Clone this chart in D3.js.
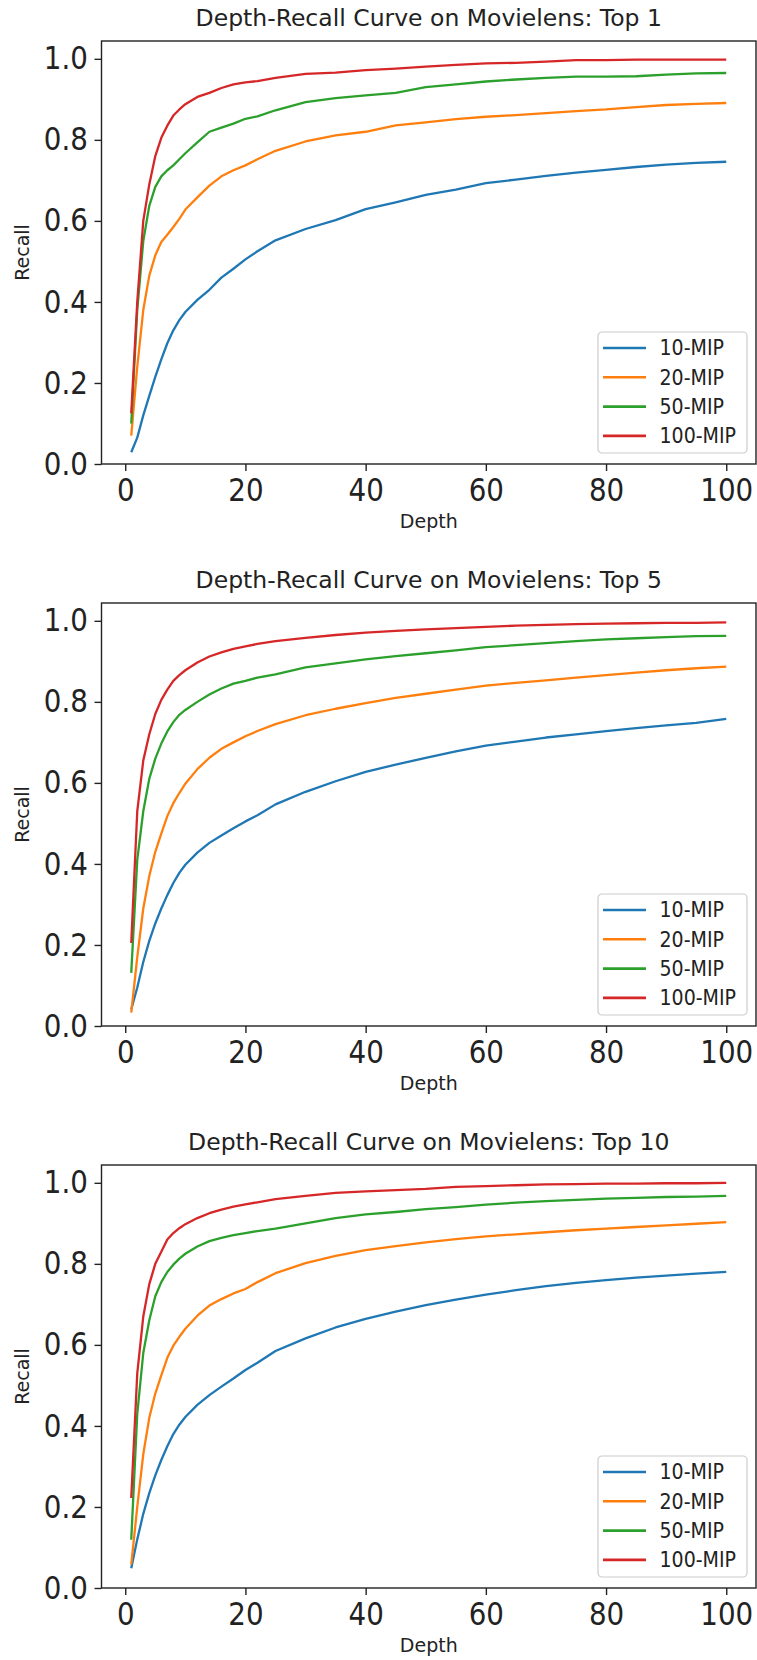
<!DOCTYPE html>
<html>
<head>
<meta charset="utf-8">
<script src="https://cdn.jsdelivr.net/npm/d3@7"></script>
<style>
    body { margin: 0; background: #fff; }
    svg { display: block; font-family: "DejaVu Sans", sans-serif; }
</style>
</head>
<body>
<svg id="chart" width="757" height="1660"></svg>
<script>
var depths = [1, 2, 3, 4, 5, 6, 7, 8, 9, 10, 12, 14, 16, 18, 20, 22, 25, 30, 35, 40, 45, 50,
    55, 60, 65, 70, 75, 80, 85, 90, 95, 100];

var titles = ['Depth-Recall Curve on Movielens: Top 1',
    'Depth-Recall Curve on Movielens: Top 5',
    'Depth-Recall Curve on Movielens: Top 10'];
var seriesNames = ['10-MIP', '20-MIP', '50-MIP', '100-MIP'];
var seriesColors = ['#1f77b4', '#ff7f0e', '#2ca02c', '#d62728'];
var xTicks = [0, 20, 40, 60, 80, 100];
var yTicks = [0.0, 0.2, 0.4, 0.6, 0.8, 1.0];

// Top 1
var top1Mip10 = [0.029, 0.065, 0.12, 0.168, 0.215, 0.258, 0.298, 0.33, 0.355, 0.375, 0.405, 0.43, 0.46, 0.482, 0.505, 0.525, 0.552,
    0.58, 0.602, 0.629, 0.646, 0.664, 0.677, 0.693, 0.702, 0.711, 0.719, 0.726, 0.733, 0.739, 0.743, 0.746];
var top1Mip20 = [0.07, 0.24, 0.38, 0.465, 0.515, 0.548, 0.566, 0.585, 0.605, 0.628, 0.658, 0.687, 0.71, 0.725, 0.737, 0.752, 0.773,
    0.796, 0.811, 0.82, 0.836, 0.843, 0.851, 0.857, 0.861, 0.866, 0.871, 0.875, 0.881, 0.886, 0.889, 0.891];
var top1Mip50 = [0.10, 0.38, 0.55, 0.637, 0.684, 0.71, 0.725, 0.737, 0.752, 0.767, 0.794, 0.82, 0.83, 0.84, 0.852, 0.858, 0.873,
    0.893, 0.903, 0.91, 0.916, 0.93, 0.937, 0.944, 0.949, 0.953, 0.956, 0.956, 0.957, 0.961, 0.964, 0.965];
var top1Mip100 = [0.125, 0.40, 0.60, 0.69, 0.76, 0.805, 0.835, 0.86, 0.875, 0.888, 0.906, 0.916, 0.928, 0.937, 0.942, 0.945, 0.953,
    0.963, 0.966, 0.972, 0.976, 0.981, 0.985, 0.989, 0.99, 0.993, 0.997, 0.997, 0.998, 0.998, 0.998, 0.998];

// Top 5
var top5Mip10 = [0.041, 0.095, 0.158, 0.21, 0.253, 0.29, 0.323, 0.353, 0.378, 0.398, 0.428, 0.452, 0.47, 0.488, 0.505, 0.52, 0.547,
    0.578, 0.604, 0.627, 0.645, 0.662, 0.678, 0.692, 0.702, 0.712, 0.72, 0.728, 0.735, 0.742, 0.748, 0.758];
var top5Mip20 = [0.033, 0.17, 0.29, 0.37, 0.43, 0.475, 0.518, 0.55, 0.575, 0.598, 0.634, 0.662, 0.684, 0.70, 0.715, 0.728, 0.745,
    0.767, 0.783, 0.797, 0.81, 0.82, 0.83, 0.84, 0.847, 0.853, 0.86, 0.866, 0.872, 0.878, 0.883, 0.887];
var top5Mip50 = [0.131, 0.41, 0.53, 0.61, 0.66, 0.697, 0.727, 0.75, 0.768, 0.78, 0.80, 0.818, 0.833, 0.845, 0.852, 0.86, 0.868,
    0.885, 0.895, 0.905, 0.913, 0.92, 0.927, 0.935, 0.94, 0.945, 0.95, 0.954, 0.957, 0.96, 0.962, 0.963];
var top5Mip100 = [0.205, 0.53, 0.655, 0.72, 0.77, 0.805, 0.83, 0.852, 0.866, 0.878, 0.897, 0.912, 0.922, 0.931, 0.937, 0.943, 0.95,
    0.958, 0.965, 0.971, 0.975, 0.979, 0.982, 0.985, 0.988, 0.99, 0.992, 0.993, 0.994, 0.995, 0.995, 0.996];

// Top 10
var top10Mip10 = [0.049, 0.12, 0.183, 0.234, 0.278, 0.316, 0.35, 0.38, 0.403, 0.422, 0.452, 0.476, 0.497, 0.517, 0.538, 0.556, 0.585,
    0.616, 0.643, 0.664, 0.682, 0.698, 0.712, 0.724, 0.735, 0.745, 0.753, 0.76, 0.766, 0.771, 0.776, 0.78];
var top10Mip20 = [0.058, 0.20, 0.33, 0.42, 0.48, 0.525, 0.568, 0.598, 0.62, 0.64, 0.672, 0.697, 0.713, 0.727, 0.738, 0.755, 0.777,
    0.802, 0.82, 0.834, 0.844, 0.853, 0.861, 0.868, 0.873, 0.878, 0.883, 0.887, 0.891, 0.895, 0.899, 0.903];
var top10Mip50 = [0.119, 0.43, 0.58, 0.661, 0.72, 0.755, 0.78, 0.798, 0.813, 0.825, 0.843, 0.856, 0.864, 0.871, 0.876, 0.881, 0.887,
    0.90, 0.913, 0.922, 0.928, 0.935, 0.94, 0.946, 0.951, 0.955, 0.958, 0.961, 0.963, 0.965, 0.966, 0.968];
var top10Mip100 = [0.222, 0.53, 0.67, 0.75, 0.80, 0.83, 0.86, 0.876, 0.888, 0.898, 0.913, 0.925, 0.934, 0.941, 0.947, 0.952, 0.96,
    0.968, 0.975, 0.979, 0.982, 0.985, 0.99, 0.992, 0.994, 0.996, 0.997, 0.998, 0.998, 0.999, 0.999, 1.0];

var panels = [
    [top1Mip10, top1Mip20, top1Mip50, top1Mip100],
    [top5Mip10, top5Mip20, top5Mip50, top5Mip100],
    [top10Mip10, top10Mip20, top10Mip50, top10Mip100]
];

/** One depth-recall panel. */
class DepthRecallChart {

    constructor(svg, top, title, series) {
        this.svg = svg;
        this.top = top;
        this.title = title;
        this.series = series;
    }

    draw() {
        var left = 101.5, right = 756, axTop = 41, axBottom = 464;
        var squeeze = 0.88;   // tick labels in the picture are a bit narrow
        var g = this.svg.append('g').attr('transform', 'translate(0,' + this.top + ')');

        var xScale = d3.scaleLinear().domain([-3.95, 104.95]).range([left, right]);
        var yScale = d3.scaleLinear().domain([0, 1.044]).range([axBottom, axTop]);

        // title
        g.append('text')
            .attr('x', (left + right) / 2)
            .attr('y', 26)
            .attr('text-anchor', 'middle')
            .style('font-size', '23.5px')
            .style('fill', '#222')
            .text(this.title);

        // curves
        var line = d3.line()
            .x(function(d, i) { return xScale(depths[i]); })
            .y(function(d) { return yScale(d); });
        g.selectAll('path.curve')
            .data(this.series)
            .enter()
            .append('path')
            .attr('class', 'curve')
            .attr('d', line)
            .style('fill', 'none')
            .style('stroke', function(d, i) { return seriesColors[i]; })
            .style('stroke-width', 2.3)
            .style('stroke-linejoin', 'round');

        // axes
        var xAxis = g.append('g')
            .attr('transform', 'translate(0,' + axBottom + ')')
            .call(d3.axisBottom(xScale).tickValues(xTicks).tickSize(7).tickPadding(8).tickSizeOuter(0));
        var yAxis = g.append('g')
            .attr('transform', 'translate(' + left + ',0)')
            .call(d3.axisLeft(yScale).tickValues(yTicks).tickFormat(d3.format('.1f'))
                .tickSize(7).tickPadding(8.5).tickSizeOuter(0));
        [xAxis, yAxis].forEach(function(ax) {
            ax.select('.domain').remove();
            ax.selectAll('line').style('stroke', '#222').style('stroke-width', 1.4);
            ax.selectAll('text')
                .attr('transform', 'scale(' + squeeze + ',1)')
                .style('font-family', '"DejaVu Sans", sans-serif')
                .style('font-size', '31.5px')
                .style('fill', '#222');
        });

        // frame
        g.append('rect')
            .attr('x', left).attr('y', axTop)
            .attr('width', right - left).attr('height', axBottom - axTop)
            .style('fill', 'none')
            .style('stroke', '#222')
            .style('stroke-width', 1.4);

        // axis labels
        g.append('text')
            .attr('x', (left + right) / 2)
            .attr('y', 528)
            .attr('text-anchor', 'middle')
            .style('font-size', '19px')
            .style('fill', '#222')
            .text('Depth');
        g.append('text')
            .attr('transform', 'translate(29,' + (axTop + axBottom) / 2 + ') rotate(-90)')
            .attr('text-anchor', 'middle')
            .style('font-size', '19px')
            .style('fill', '#222')
            .text('Recall');

        // legend
        var legend = g.append('g').attr('transform', 'translate(598,332)');
        legend.append('rect')
            .attr('width', 149).attr('height', 121)
            .attr('rx', 4)
            .style('fill', 'rgba(255,255,255,0.8)')
            .style('stroke', '#cccccc')
            .style('stroke-width', 1.2);
        var items = legend.selectAll('g.item')
            .data(seriesNames)
            .enter()
            .append('g')
            .attr('class', 'item')
            .attr('transform', function(d, i) { return 'translate(0,' + (16 + i * 29.3) + ')'; });
        items.append('line')
            .attr('x1', 5).attr('x2', 48)
            .style('stroke', function(d, i) { return seriesColors[i]; })
            .style('stroke-width', 2.6);
        items.append('text')
            .attr('x', 61.5)
            .attr('dy', '0.36em')
            .attr('transform', 'scale(1,1.08)')
            .style('font-size', '19px')
            .style('fill', '#222')
            .text(function(d) { return d; });
    }
}

var svg = d3.select('#chart');
panels.forEach(function(series, i) {
    new DepthRecallChart(svg, i * 562, titles[i], series).draw();
});
</script>
</body>
</html>
